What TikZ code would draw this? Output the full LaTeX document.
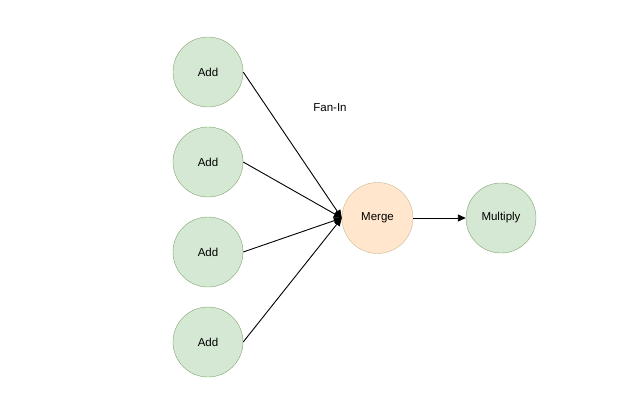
\documentclass[tikz,border=0pt]{standalone}
\usepackage{fontspec}
\setmainfont{Liberation Sans}
\usetikzlibrary{arrows.meta}
\definecolor{gfill}{HTML}{D5E8D4}
\definecolor{gline}{HTML}{82B366}
\definecolor{ofill}{HTML}{FFE6CC}
\definecolor{oline}{HTML}{D79B00}
\tikzset{
  gnode/.style={circle, draw=gline!70!gray, fill=gfill, minimum size=70pt, inner sep=0pt, font=\fontsize{11.5}{13}\selectfont},
  onode/.style={circle, draw=oline!40!gray!60, fill=ofill, minimum size=71pt, inner sep=0pt, font=\fontsize{11.5}{13}\selectfont},
  conn/.style={draw=black, line width=0.9pt, -{Triangle[length=8pt,width=7pt]}},
}
\begin{document}
\begin{tikzpicture}[x=1pt,y=-1pt]
\useasboundingbox (0,0) rectangle (625,410);
\node[gnode] (a1) at (208,72) {Add};
\node[gnode] (a2) at (208,162) {Add};
\node[gnode] (a3) at (208,252) {Add};
\node[gnode] (a4) at (208,342) {Add};
\node[onode] (m) at (377.5,218) {Merge};
\node[gnode] (p) at (501,218) {Multiply};
\node[font=\fontsize{11.5}{13}\selectfont] (f) at (330,108) {Fan-In};
\draw[conn] (a1.east) -- (m.west);
\draw[conn] (a2.east) -- (m.west);
\draw[conn] (a3.east) -- (m.west);
\draw[conn] (a4.east) -- (m.west);
\draw[conn] (m.east) -- (p.west);
\end{tikzpicture}
\end{document}
